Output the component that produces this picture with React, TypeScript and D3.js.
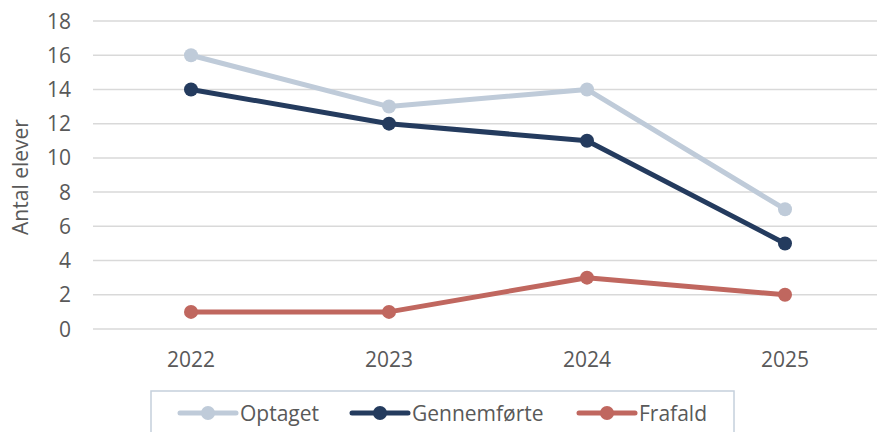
import { useEffect, useRef } from 'react';
import * as d3 from 'd3';

const years = ['2022', '2023', '2024', '2025'];
const optaget = [16, 13, 14, 7];
const gennemforte = [14, 12, 11, 5];
const frafald = [1, 1, 3, 2];
const yTicks = [0, 2, 4, 6, 8, 10, 12, 14, 16, 18];

const seriesList = [
  { name: 'Optaget', values: optaget, color: '#bfcbd9' },
  { name: 'Gennemførte', values: gennemforte, color: '#243b5e' },
  { name: 'Frafald', values: frafald, color: '#c0675f' },
];

const W = 877;
const H = 432;
const FONT = '"Open Sans", Roboto, sans-serif';

const App = () => {
  const ref = useRef<SVGSVGElement>(null);

  useEffect(() => {
    const svg = d3.select(ref.current);
    svg.selectAll('*').remove();

    const x = d3.scalePoint().domain(years).range([92, 884]).padding(0.5);
    const y = d3.scaleLinear().domain([0, 18]).range([329, 21]);

    // grid
    svg
      .append('g')
      .selectAll('line')
      .data(yTicks)
      .enter()
      .append('line')
      .attr('x1', 93)
      .attr('x2', W)
      .attr('y1', (d) => y(d))
      .attr('y2', (d) => y(d))
      .attr('stroke', '#d9d9d9')
      .attr('stroke-width', 1.5);

    // y tick labels
    svg
      .append('g')
      .selectAll('text')
      .data(yTicks)
      .enter()
      .append('text')
      .attr('x', 71)
      .attr('y', (d) => y(d))
      .attr('dy', '0.36em')
      .attr('text-anchor', 'end')
      .attr('fill', '#595959')
      .style('font', `21px ${FONT}`)
      .text((d) => d);

    // x labels
    svg
      .append('g')
      .selectAll('text')
      .data(years)
      .enter()
      .append('text')
      .attr('x', (d) => x(d) as number)
      .attr('y', 359)
      .attr('dy', '0.36em')
      .attr('text-anchor', 'middle')
      .attr('fill', '#595959')
      .style('font', `21px ${FONT}`)
      .text((d) => d);

    // y title
    svg
      .append('text')
      .attr('transform', 'translate(20,177) rotate(-90)')
      .attr('dy', '0.36em')
      .attr('text-anchor', 'middle')
      .attr('fill', '#595959')
      .style('font', `21px ${FONT}`)
      .text('Antal elever');

    const line = d3
      .line<number>()
      .x((_, i) => x(years[i]) as number)
      .y((d) => y(d));

    seriesList.forEach((s) => {
      const g = svg.append('g');
      g.append('path')
        .attr('d', line(s.values))
        .attr('fill', 'none')
        .attr('stroke', s.color)
        .attr('stroke-width', 5)
        .attr('stroke-linejoin', 'round');
      g.selectAll('circle')
        .data(s.values)
        .enter()
        .append('circle')
        .attr('cx', (_, i) => x(years[i]) as number)
        .attr('cy', (d) => y(d))
        .attr('r', 7)
        .attr('fill', s.color);
    });

    // legend
    svg
      .append('rect')
      .attr('x', 151)
      .attr('y', 391)
      .attr('width', 583)
      .attr('height', 60)
      .attr('fill', 'white')
      .attr('stroke', '#c5d0dc')
      .attr('stroke-width', 1.5);

    const legendX = [180, 352, 579];
    seriesList.forEach((s, i) => {
      const lx = legendX[i];
      const ly = 413;
      svg
        .append('line')
        .attr('x1', lx)
        .attr('x2', lx + 56)
        .attr('y1', ly)
        .attr('y2', ly)
        .attr('stroke', s.color)
        .attr('stroke-width', 5)
        .attr('stroke-linecap', 'round');
      svg.append('circle').attr('cx', lx + 28).attr('cy', ly).attr('r', 7).attr('fill', s.color);
      svg
        .append('text')
        .attr('x', lx + 60)
        .attr('y', ly)
        .attr('dy', '0.36em')
        .attr('fill', '#595959')
        .style('font', `21px ${FONT}`)
        .text(s.name);
    });
  }, []);

  return (
    <svg
      ref={ref}
      width={W}
      height={H}
      style={{ position: 'fixed', left: 0, top: 0, background: 'white' }}
    />
  );
};

export default App;
